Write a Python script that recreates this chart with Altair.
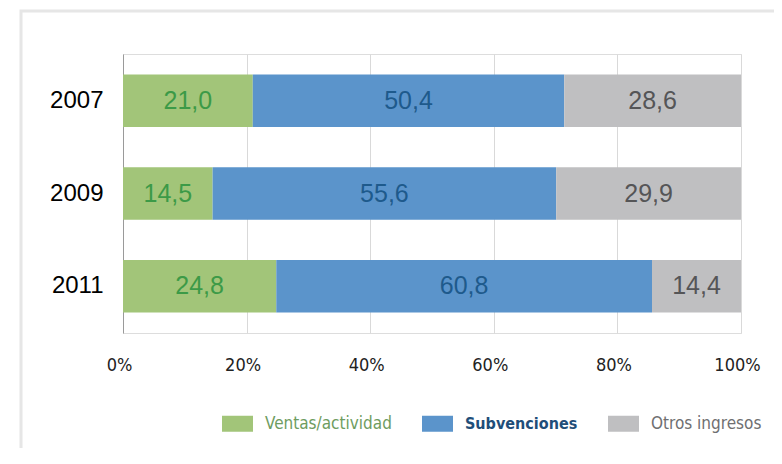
import altair as alt
import pandas as pd

years = ["2007", "2009", "2011"]
categories = ["Ventas/actividad", "Subvenciones", "Otros ingresos"]
ventas = [21.0, 14.5, 24.8]
subvenciones = [50.4, 55.6, 60.8]
otros = [28.6, 29.9, 14.4]
x_ticks = [0, 20, 40, 60, 80, 100]

bar_colors = ["#a2c579", "#5b94cb", "#bfbfc1"]
text_colors = ["#3c9a47", "#1e5a8c", "#555557"]

rows = []
for i, y in enumerate(years):
    for k, (cat, vals) in enumerate(zip(categories, [ventas, subvenciones, otros])):
        rows.append({"year": y, "cat": cat, "order": k, "value": vals[i]})
df = pd.DataFrame(rows)

narrow = "Liberation Sans Narrow, DejaVu Sans Condensed, sans-serif"

base = alt.Chart(df).transform_stack(
    stack="value", groupby=["year"], as_=["x0", "x1"], sort=[alt.SortField("order")]
).transform_calculate(
    mid="(datum.x0 + datum.x1) / 2",
    label="replace(format(datum.value, '.1f'), '.', ',')",
)

yenc = alt.Y(
    "year:N",
    sort=years,
    title=None,
    scale=alt.Scale(paddingInner=0.4315, paddingOuter=0.22),
    axis=alt.Axis(
        ticks=False,
        labelFont="Liberation Sans",
        labelFontSize=24,
        labelColor="#000000",
        labelPadding=20,
        domain=True,
        domainColor="#9a9a9a",
        domainWidth=1,
        grid=False,
    ),
)

legend_expr = (
    "datum.label == 'Ventas/actividad' ? '#6e9c60' : "
    "datum.label == 'Subvenciones' ? '#1f4e79' : '#6f6f71'"
)

bars = base.mark_bar().encode(
    x=alt.X(
        "x0:Q",
        scale=alt.Scale(domain=[0, 100], nice=False),
        title=None,
        axis=alt.Axis(
            values=x_ticks,
            labelExpr="datum.value + '%'",
            ticks=False,
            tickSize=0,
            domain=False,
            grid=True,
            gridColor="#d9d9d9",
            gridWidth=1,
            labelFont=narrow,
            labelFontSize=18,
            labelColor="#222222",
            labelPadding=23,
            labelOffset=-4,
            labelBaseline="top",
            labelFlush=False,
        ),
    ),
    x2="x1:Q",
    y=yenc,
    color=alt.Color(
        "cat:N",
        scale=alt.Scale(domain=categories, range=bar_colors),
        sort=categories,
        legend=alt.Legend(
            title=None,
            orient="none",
            direction="horizontal",
            legendX=99,
            legendY=354,
            padding=0,
            symbolType="M-1,-0.516L1,-0.516L1,0.516L-1,0.516Z",
            symbolSize=961,
            symbolStrokeWidth=0,
            symbolOpacity=1,
            labelFont=narrow,
            labelFontSize=alt.ExprRef(
                expr="datum.label == 'Subvenciones' ? 16 : 17"
            ),
            labelOffset=12,
            columnPadding=30,
            labelColor=alt.ExprRef(expr=legend_expr),
            labelFontWeight=alt.ExprRef(
                expr="datum.label == 'Subvenciones' ? 'bold' : 'normal'"
            ),
            labelLimit=300,
        ),
    ),
    order=alt.Order("order:Q"),
)

texts = base.mark_text(
    font="Liberation Sans", fontSize=25, baseline="middle", align="center"
).encode(
    x=alt.X("mid:Q"),
    y=alt.Y("year:N", sort=years),
    text="label:N",
    color=alt.Color(
        "cat:N", scale=alt.Scale(domain=categories, range=text_colors), legend=None
    ),
)

frame = alt.Chart(pd.DataFrame({"f": [0]})).mark_rect(
    fill=None, stroke="#e6e6e6", strokeWidth=3
).encode(
    x=alt.value(-102), x2=alt.value(720), y=alt.value(-43), y2=alt.value(520)
)

chart = alt.layer(frame, bars, texts).resolve_scale(color="independent").properties(
    width=618,
    height=279,
    padding={"left": 115, "top": 46, "right": 33, "bottom": 115},
    autosize=alt.AutoSizeParams(type="none"),
).configure_view(stroke=None).configure(background="white")

chart.save("out.html", embed_options={"renderer": "svg", "actions": False})
